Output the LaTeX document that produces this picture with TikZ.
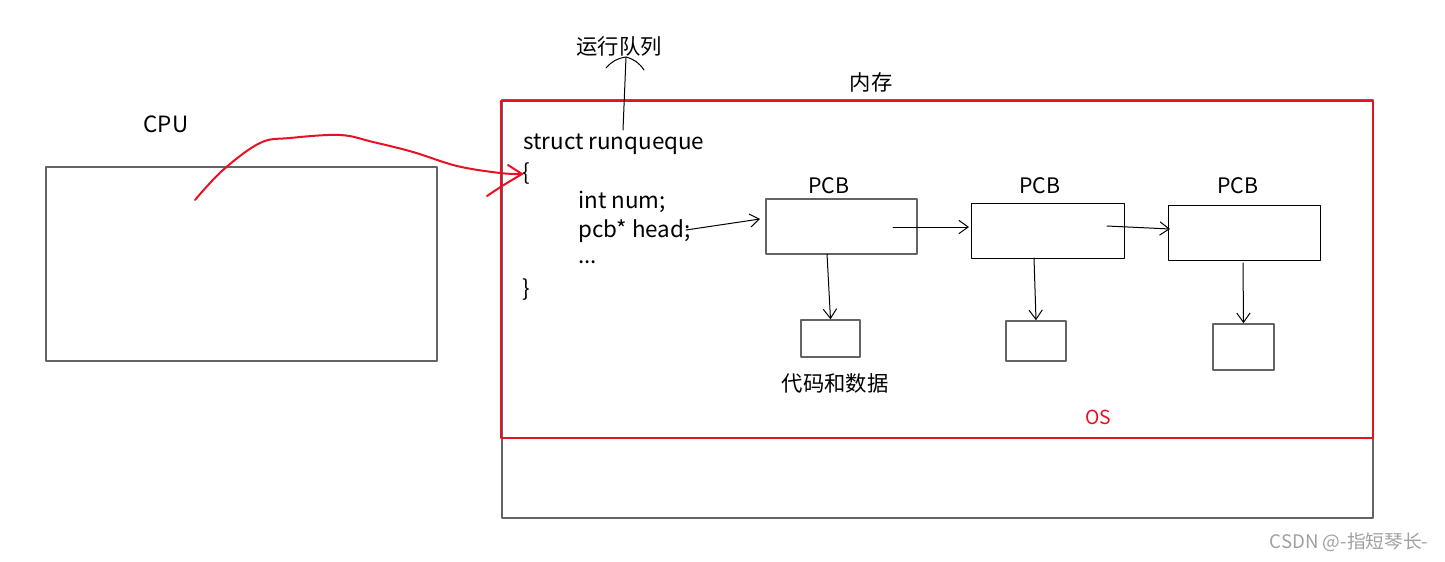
\documentclass[tikz,border=0pt]{standalone}
\usepackage{fontspec}
\setmainfont{Noto Sans CJK SC}
\usetikzlibrary{arrows.meta,fit}
\definecolor{penred}{RGB}{232,17,35}
\definecolor{boxgray}{RGB}{100,100,100}
\definecolor{markgray}{RGB}{160,160,160}

\begin{document}
\begin{tikzpicture}[line cap=round,line join=round,x=0.75pt,y=-0.75pt,
  >={Straight Barb[length=7pt,width=10pt]},
  graybox/.style={draw=boxgray,line width=1.2pt,inner sep=0pt},
  blackbox/.style={draw=black,line width=0.75pt,inner sep=0pt},
  txt/.style={font=\fontsize{16}{19}\selectfont,inner sep=0pt},
  code/.style={font=\fontsize{16.8}{19}\selectfont,inner sep=0pt,anchor=west},
  link/.style={->,line width=0.75pt}]
\useasboundingbox (0,0) rectangle (1445,561);
% boxes
\node[graybox,fit={(46,167) (437,361)}] (cpu) {};
\node[graybox,fit={(502,100) (1373,518)}] (mem) {};
\node[draw=penred,line width=1.5pt,inner sep=0pt,fit={(501,101) (1373,438)}] (os) {};
\node[graybox,fit={(766,199) (917,254)}] (pcba) {};
\node[blackbox,fit={(971,203) (1124,258)}] (pcbb) {};
\node[blackbox,fit={(1168,205) (1320,260)}] (pcbc) {};
\node[graybox,fit={(801,320) (860,357)}] (dataa) {};
\node[graybox,fit={(1006,321) (1066,361)}] (datab) {};
\node[graybox,fit={(1213,324) (1274,370)}] (datac) {};
% texts
\node[code,anchor=center] (cpulabel) at (166,124) {CPU};
\node[txt] (memlabel) at (871,82) {内存};
\node[txt] (queuelabel) at (619,46) {运行队列};
\node[code] (structline) at (523,144) {struct runqueque};
\node[code] (brace) at (522,174) {\{};
\node[code] (numline) at (578,202) {int num;};
\node[code] (headline) at (578,231) {pcb* head;};
\node[code] (dotsline) at (578,262) {...};
\node[code] (rbrace) at (522,290) {\}};
\node[txt] (pcbalabel) at (829,186) {PCB};
\node[txt] (pcbblabel) at (1040,186) {PCB};
\node[txt] (pcbclabel) at (1238,186) {PCB};
\node[txt] (datalabel) at (835,383) {代码和数据};
\node[txt,text=penred,font=\fontsize{14.5}{16}\selectfont] (oslabel) at (1098,417) {OS};
\node[txt,text=markgray,font=\fontsize{14}{16}\selectfont] (mark) at (1349,542) {CSDN @-指短琴长-};
% connectors
\coordinate (qfoot) at (623,130);
\coordinate (qtip) at (626,57);
\draw[line width=0.75pt] (qfoot) -- (qtip);
\draw[line width=0.75pt] (606,68) to[bend left=20] (qtip) to[bend left=20] (644,70);
\coordinate (headend) at (686,230);
\coordinate (pcbain) at (760,219);
\draw[link] (headend) -- (pcbain);
\coordinate (pcbaout) at (893,227);
\coordinate (pcbbin) at (969,227);
\draw[link] (pcbaout) -- (pcbbin);
\coordinate (pcbbout) at (1107,226);
\coordinate (pcbcin) at (1170,229);
\draw[link] (pcbbout) -- (pcbcin);
\draw[link] (827,254) -- (dataa.north);
\draw[link] (1034,258) -- (datab.north);
\draw[link] (1243,263) -- (datac.north);
% red hand arrow
\coordinate (cpuhand) at (195,200);
\draw[penred,line width=1.5pt] plot[smooth,tension=0.6] coordinates {(cpuhand) (223,170) (260,143) (290,138) (340,135) (373,142) (413,152) (457,166) (500,173) (brace.west)};
\draw[penred,line width=1.5pt] (508,165) -- (brace.west) -- (502,186) -- (487,196);
\end{tikzpicture}
\end{document}
